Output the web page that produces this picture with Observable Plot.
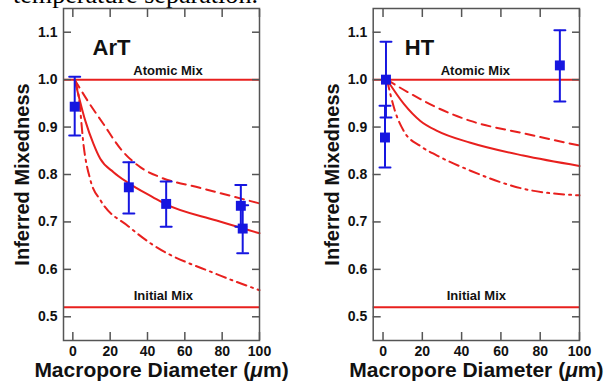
<!DOCTYPE html>
<html>
<head>
<meta charset="utf-8">
<script src="https://cdn.jsdelivr.net/npm/d3@7"></script>
<script src="https://cdn.jsdelivr.net/npm/@observablehq/plot@0.6"></script>
<style>
  body { margin: 0; background: #fff; }
  #wrap { position: relative; width: 612px; height: 381px; overflow: hidden; }
  .panel, #caption { position: absolute; top: 0; }
</style>
</head>
<body>
<div id="wrap">
  <svg id="caption" width="612" height="20" style="left:0">
    <text x="13" y="3" font-family="Liberation Serif, Times New Roman, serif" font-size="26"
          textLength="245" lengthAdjust="spacingAndGlyphs">temperature separation.</text>
  </svg>
</div>
<script>
// Axis ticks
const xTicks = [0, 20, 40, 60, 80, 100];
const yTicks = [0.5, 0.6, 0.7, 0.8, 0.9, 1.0, 1.1];

// Reference levels
const atomicMix = 1.0;
const initialMix = 0.52;

// ArT measurements: macropore diameter, mixedness, error range
const artX  = [1, 30, 50, 90, 91];
const artY  = [0.943, 0.773, 0.738, 0.734, 0.686];
const artLo = [0.882, 0.718, 0.690, 0.690, 0.634];
const artHi = [1.006, 0.826, 0.785, 0.778, 0.735];

// HT measurements
const htX  = [1.5, 1, 90];
const htY  = [1.0, 0.878, 1.03];
const htLo = [0.92, 0.815, 0.954];
const htHi = [1.08, 0.945, 1.104];

// ArT model curves [diameter, mixedness]
const artSolid   = [[1, 1.0], [6.7, 0.913], [11, 0.865], [14.7, 0.833], [21.8, 0.805], [29, 0.784], [43, 0.752], [50, 0.737], [77, 0.703], [100, 0.676]];
const artDashed  = [[1, 1.0], [8, 0.955], [16.5, 0.906], [25.6, 0.854], [36.3, 0.815], [47, 0.794], [68, 0.772], [100, 0.739]];
const artDashDot = [[1, 1.0], [3.2, 0.963], [5.9, 0.857], [9.5, 0.787], [14.9, 0.745], [30, 0.69], [41.6, 0.655], [77, 0.59], [100, 0.556]];

// HT model curves
const htSolid   = [[2, 1.0], [10.6, 0.949], [19, 0.913], [27.5, 0.892], [44.5, 0.867], [71.3, 0.84], [100, 0.818]];
const htDashed  = [[2, 1.0], [7.1, 0.987], [19, 0.959], [27.5, 0.941], [44.5, 0.913], [71.3, 0.887], [100, 0.861]];
const htDashDot = [[2, 1.0], [6, 0.935], [10.5, 0.892], [19, 0.86], [27.5, 0.84], [44.5, 0.808], [71.3, 0.77], [100, 0.756]];

const red = "#e8201e";
const blue = "#1616e0";
const axisGray = "#555";
const sans = "Liberation Sans, Arial, Helvetica, sans-serif";

// Short horizontal stroke used for error-bar caps
const capShape = {
  draw(context, l) { context.moveTo(0, 0); context.lineTo(0, -l); }
};

const toRows = (pairs) => pairs.map(([x, y]) => ({x, y}));

function panel({title, titleX, xs, ys, lo, hi, solid, dashed, dashDot, atomicX, initialX, width, marginLeft, marginRight}) {
  const pts = xs.map((x, i) => ({x, y: ys[i], lo: lo[i], hi: hi[i]}));
  const curveOpts = {x: "x", y: "y", curve: "monotone-x", stroke: red, strokeWidth: 2};
  return Plot.plot({
    width, height: 381,
    marginLeft, marginRight, marginTop: 8, marginBottom: 41,
    style: {fontFamily: sans, background: "transparent", color: "#111"},
    x: {domain: [-5, 100], label: null},
    y: {domain: [0.45, 1.15], label: null},
    marks: [
      Plot.ruleY([atomicMix, initialMix], {stroke: red, strokeWidth: 2}),
      Plot.line(toRows(solid), curveOpts),
      Plot.line(toRows(dashed), {...curveOpts, strokeDasharray: "9,6"}),
      Plot.line(toRows(dashDot), {...curveOpts, strokeDasharray: "10,5,2,5"}),
      Plot.ruleX(pts, {x: "x", y1: "lo", y2: "hi", stroke: blue, strokeWidth: 2}),
      Plot.vector(pts, {x: "x", y: "hi", length: 11, rotate: 90, anchor: "middle", shape: capShape, stroke: blue, strokeWidth: 2}),
      Plot.vector(pts, {x: "x", y: "lo", length: 11, rotate: 90, anchor: "middle", shape: capShape, stroke: blue, strokeWidth: 2}),
      Plot.dot(pts, {x: "x", y: "y", symbol: "square", r: 5.6, fill: blue, stroke: null}),
      Plot.text([title], {x: titleX, y: 1.053, lineAnchor: "bottom", textAnchor: "start", fontSize: 22, fontWeight: "bold"}),
      Plot.text(["Atomic Mix"], {x: atomicX, y: atomicMix, dy: -5, lineAnchor: "bottom", fontSize: 13, fontWeight: "bold"}),
      Plot.text(["Initial Mix"], {x: initialX, y: initialMix, dy: -7, lineAnchor: "bottom", fontSize: 13, fontWeight: "bold"}),
      Plot.frame({stroke: axisGray, strokeWidth: 1.5}),
      // inward ticks on all four sides
      Plot.axisX({ticks: xTicks, anchor: "bottom", tickSize: -8, tickFormat: () => "", stroke: axisGray, strokeWidth: 1.5, label: null}),
      Plot.axisX({ticks: xTicks, anchor: "top", tickSize: -8, tickFormat: () => "", stroke: axisGray, strokeWidth: 1.5, label: null}),
      Plot.axisY({ticks: yTicks, anchor: "left", tickSize: -8, tickFormat: () => "", stroke: axisGray, strokeWidth: 1.5, label: null}),
      Plot.axisY({ticks: yTicks, anchor: "right", tickSize: -8, tickFormat: () => "", stroke: axisGray, strokeWidth: 1.5, label: null}),
      // tick labels
      Plot.axisX({ticks: xTicks, anchor: "bottom", tickSize: 0, tickPadding: 6, fontSize: 14, fontWeight: "bold", tickFormat: d3.format("d"), label: null}),
      Plot.axisY({ticks: yTicks, anchor: "left", tickSize: 0, tickPadding: 6, fontSize: 14, fontWeight: "bold", tickFormat: d3.format(".1f"), label: null}),
      // axis titles
      Plot.text(["Inferred Mixedness"], {frameAnchor: "left", dx: -41, rotate: -90, textAnchor: "middle", lineAnchor: "middle", fontSize: 20, fontWeight: "bold"}),
      Plot.text(["Macropore Diameter (μm)"], {frameAnchor: "bottom", dy: 36, textAnchor: "middle", lineAnchor: "bottom", fontSize: 21, fontWeight: "bold"})
    ]
  });
}

const left = panel({
  title: "ArT", titleX: 10.6,
  xs: artX, ys: artY, lo: artLo, hi: artHi,
  solid: artSolid, dashed: artDashed, dashDot: artDashDot,
  atomicX: 51, initialX: 48.5,
  width: 306, marginLeft: 63, marginRight: 47
});
const right = panel({
  title: "HT", titleX: 11.1,
  xs: htX, ys: htY, lo: htLo, hi: htHi,
  solid: htSolid, dashed: htDashed, dashDot: htDashDot,
  atomicX: 47, initialX: 47.5,
  width: 306, marginLeft: 66.7, marginRight: 33
});

const wrap = document.getElementById("wrap");
[left, right].forEach((svg, i) => {
  svg.classList.add("panel");
  svg.style.left = (i * 306) + "px";
  wrap.appendChild(svg);
  // italic mu in the x-axis title
  d3.select(svg).selectAll("text").each(function () {
    if (this.textContent === "Macropore Diameter (μm)") {
      const t = d3.select(this);
      t.text("");
      t.append("tspan").text("Macropore Diameter (");
      t.append("tspan").attr("font-style", "italic").text("μ");
      t.append("tspan").text("m)");
    }
  });
});
</script>
</body>
</html>
